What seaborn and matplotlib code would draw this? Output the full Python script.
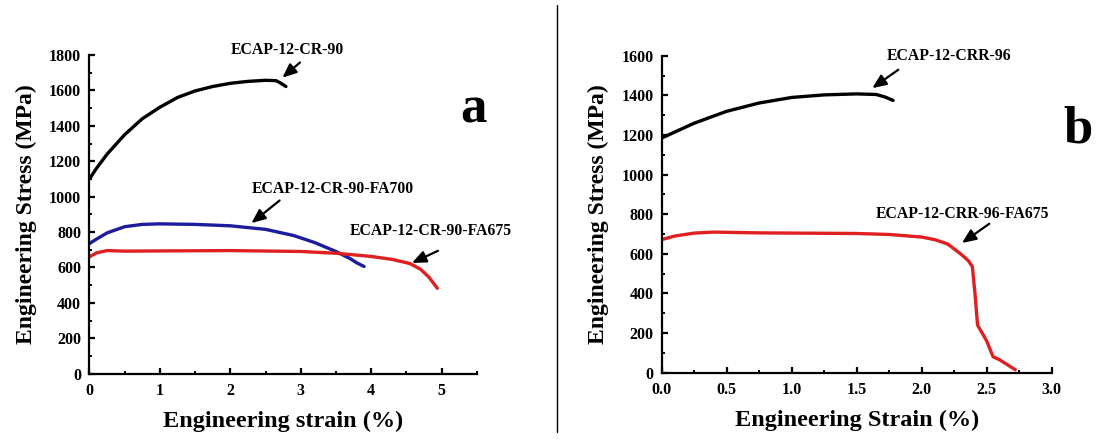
import numpy as np
import pandas as pd
import matplotlib
matplotlib.use("Agg")
import matplotlib.pyplot as plt
from matplotlib.ticker import MultipleLocator
from matplotlib.lines import Line2D
import seaborn as sns

# ---------------- data (panel a) ----------------
a_cr90_strain = [0.0, 0.1, 0.25, 0.5, 0.75, 1.0, 1.25, 1.5, 1.75, 2.0, 2.25, 2.5, 2.65, 2.72, 2.79]
a_cr90_stress = [1100, 1160, 1240, 1350, 1440, 1505, 1560, 1597, 1622, 1640, 1651, 1657, 1655, 1640, 1622]

a_fa700_strain = [0.0, 0.1, 0.25, 0.5, 0.75, 1.0, 1.5, 2.0, 2.5, 2.9, 3.2, 3.5, 3.7, 3.8, 3.9]
a_fa700_stress = [735, 760, 795, 830, 843, 846, 843, 835, 815, 780, 740, 690, 650, 625, 605]

a_fa675_strain = [0.0, 0.1, 0.25, 0.5, 1.0, 2.0, 3.0, 3.5, 4.0, 4.3, 4.55, 4.7, 4.82, 4.94]
a_fa675_stress = [660, 682, 695, 692, 693, 695, 690, 680, 662, 645, 622, 590, 545, 482]

# ---------------- data (panel b) ----------------
b_crr96_strain = [0.0, 0.1, 0.25, 0.5, 0.75, 1.0, 1.25, 1.5, 1.65, 1.72, 1.78]
b_crr96_stress = [1185, 1215, 1260, 1320, 1362, 1390, 1403, 1408, 1405, 1392, 1375]

b_fa675_strain = [0.0, 0.1, 0.25, 0.4, 0.75, 1.0, 1.5, 1.75, 2.0, 2.1, 2.2, 2.3, 2.36, 2.39,
                  2.41, 2.43, 2.47, 2.5, 2.55, 2.6, 2.66, 2.72]
b_fa675_stress = [672, 690, 705, 710, 706, 705, 703, 698, 685, 672, 650, 600, 565, 535,
                  400, 240, 195, 160, 80, 65, 40, 15]

labels_a = ["ECAP-12-CR-90", "ECAP-12-CR-90-FA700", "ECAP-12-CR-90-FA675"]
labels_b = ["ECAP-12-CRR-96", "ECAP-12-CRR-96-FA675"]

# ---------------- style ----------------
sns.set_theme(style="ticks")
plt.rcParams["font.family"] = ["Liberation Serif", "DejaVu Serif"]
plt.rcParams["font.weight"] = "bold"
plt.rcParams["axes.labelweight"] = "bold"
plt.rcParams["text.color"] = "black"
plt.rcParams["axes.labelcolor"] = "black"
plt.rcParams["xtick.color"] = "black"
plt.rcParams["ytick.color"] = "black"
plt.rcParams["xtick.direction"] = "in"
plt.rcParams["ytick.direction"] = "in"

BLACK = "#000000"
BLUE = "#1c1c9c"
RED = "#e02020"

fig = plt.figure(figsize=(10.98, 4.4), dpi=100)
axA = fig.add_axes([0.0815, 0.1509, 0.3527, 0.7241])
axB = fig.add_axes([0.6026, 0.1530, 0.3552, 0.7200])


def draw(ax, x, y, color):
    df = pd.DataFrame({"strain": x, "stress": y})
    sns.lineplot(data=df, x="strain", y="stress", ax=ax, color=color,
                 linewidth=2.4, sort=False, estimator=None)


draw(axA, a_cr90_strain, a_cr90_stress, BLACK)
draw(axA, a_fa700_strain, a_fa700_stress, BLUE)
draw(axA, a_fa675_strain, a_fa675_stress, RED)
draw(axB, b_crr96_strain, b_crr96_stress, BLACK)
draw(axB, b_fa675_strain, b_fa675_stress, RED)


def style(ax, xmax, xmaj, xmin_, ymax, xlabel, xfmt):
    ax.set_xlim(0, xmax)
    ax.set_ylim(0, ymax)
    ax.xaxis.set_major_locator(MultipleLocator(xmaj))
    ax.xaxis.set_minor_locator(MultipleLocator(xmin_))
    ax.yaxis.set_major_locator(MultipleLocator(200))
    ax.yaxis.set_minor_locator(MultipleLocator(100))
    ax.xaxis.set_major_formatter(xfmt)
    for s in ["top", "right"]:
        ax.spines[s].set_visible(False)
    for s in ["left", "bottom"]:
        ax.spines[s].set_linewidth(1.6)
        ax.spines[s].set_color("black")
    ax.tick_params(which="major", direction="in", length=4.5, width=1.6,
                   labelsize=11.5, colors="black", pad=6)
    ax.tick_params(which="minor", direction="in", length=2.5, width=1.4, colors="black")
    ax.tick_params(axis="x", which="major", pad=7)
    for t in ax.get_xticklabels() + ax.get_yticklabels():
        t.set_fontweight("bold")
    ax.set_xlabel(xlabel, fontsize=17.5, fontweight="bold", labelpad=8, color="black")
    ax.set_ylabel("Engineering Stress (MPa)", fontsize=17, fontweight="bold", labelpad=9,
                  color="black")
    ax.set_facecolor("white")


style(axA, 5.5, 1, 0.5, 1800, "Engineering strain (%)",
      matplotlib.ticker.FuncFormatter(lambda v, p: "%d" % v if v <= 5 else ""))
style(axB, 3.0, 0.5, 0.25, 1600, "Engineering Strain (%)",
      matplotlib.ticker.FormatStrFormatter("%.1f"))

arrow = dict(arrowstyle="-|>,head_length=0.7,head_width=0.3", color="black", lw=1.6,
             shrinkA=0, shrinkB=0)


def note(ax, text, txy, tail, head):
    ax.text(txy[0], txy[1], text, ha="center", va="center", fontsize=11.3,
            fontweight="bold", color="black", clip_on=False)
    ax.annotate("", xy=head, xytext=tail, arrowprops=arrow, annotation_clip=False)


note(axA, labels_a[0], (2.81, 1828), (2.99, 1758), (2.74, 1672))
note(axA, labels_a[1], (3.46, 1043), (2.70, 978), (2.30, 850))
note(axA, labels_a[2], (4.85, 806), (4.95, 694), (4.58, 625))

note(axB, labels_b[0], (2.21, 1598), (1.82, 1530), (1.62, 1437))
note(axB, labels_b[1], (2.31, 802), (2.52, 752), (2.31, 655))

axA.text(5.45, 1490, "a", ha="center", va="center", fontsize=38, fontweight="bold",
         color="black", clip_on=False)
axB.text(3.20, 1226, "b", ha="center", va="center", fontsize=38, fontweight="bold",
         color="black", clip_on=False)

fig.add_artist(Line2D([556.7 / 1098, 556.7 / 1098], [1 - 5 / 440, 1 - 432 / 440],
                      transform=fig.transFigure, color="black", lw=1.0))

fig.savefig("out.png", dpi=100, facecolor="white")
